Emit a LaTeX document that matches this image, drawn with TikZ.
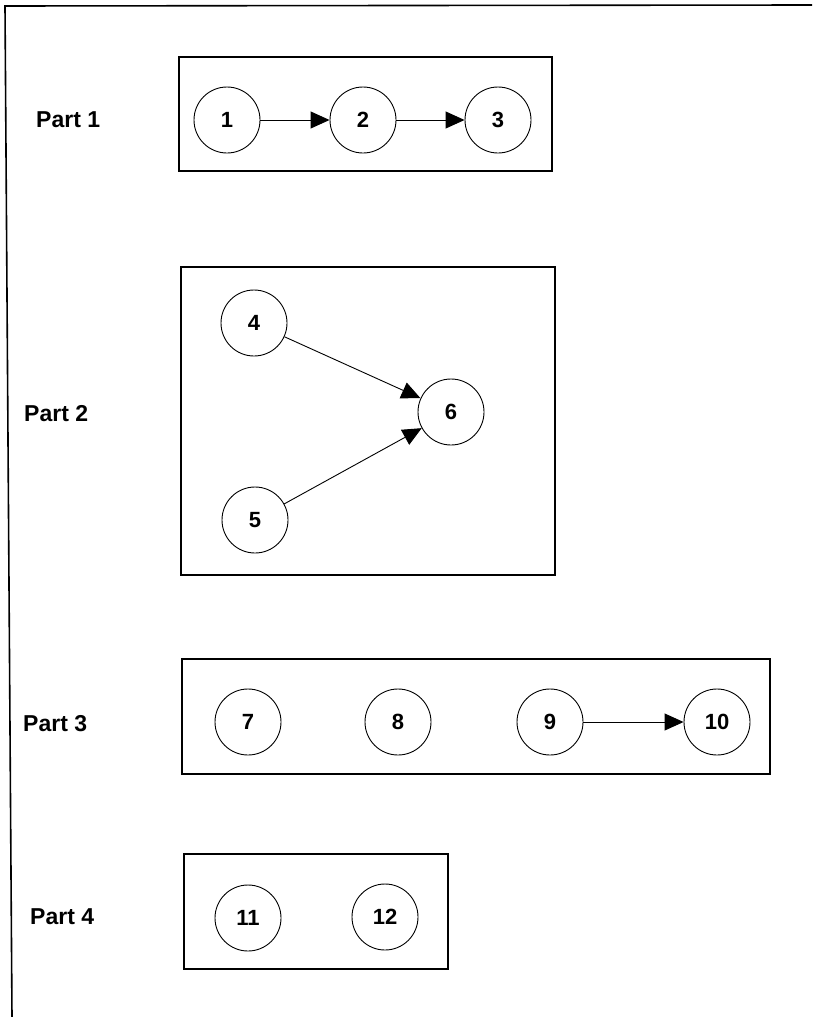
\documentclass[tikz,border=0pt]{standalone}
\usepackage{fontspec}
\setmainfont{Liberation Sans}
\usetikzlibrary{arrows.meta}
\begin{document}
\begin{tikzpicture}[x=1pt,y=-1pt,
  circ/.style={circle,draw,line width=0.9pt,minimum size=66pt,inner sep=0pt,
    font=\bfseries\fontsize{22}{22}\selectfont},
  grp/.style={draw,line width=1.4pt,inner sep=0pt},
  lbl/.style={anchor=west,inner sep=0pt,font=\bfseries\fontsize{23}{23}\selectfont},
  arr/.style={line width=0.9pt,-{Triangle[length=19pt,width=17pt]}}]
\useasboundingbox (0,0) rectangle (812,1017);
% page frame
\coordinate (fr1) at (812,5);
\coordinate (fr2) at (5,6);
\coordinate (fr3) at (12,1017);
\draw[line width=1.6pt] (fr1) -- (fr2) -- (fr3);

% group boxes
\node[grp,minimum width=373pt,minimum height=114pt] (box1) at (365.5,114) {};
\node[grp,minimum width=374pt,minimum height=308pt] (box2) at (368,421) {};
\node[grp,minimum width=588pt,minimum height=115pt] (box3) at (476,716.5) {};
\node[grp,minimum width=264pt,minimum height=115pt] (box4) at (316,911.5) {};

% labels
\node[lbl] (p1) at (36,120) {Part 1};
\node[lbl] (p2) at (24,414) {Part 2};
\node[lbl] (p3) at (23,724) {Part 3};
\node[lbl] (p4) at (30,917) {Part 4};

% Part 1
\node[circ] (n1) at (227,120) {1};
\node[circ] (n2) at (363,120) {2};
\node[circ] (n3) at (498,120) {3};
\draw[arr] (n1) -- (n2);
\draw[arr] (n2) -- (n3);

% Part 2
\node[circ] (n4) at (254,323) {4};
\node[circ] (n5) at (255,520) {5};
\node[circ] (n6) at (451,412) {6};
\draw[arr] (n4) -- (n6);
\draw[arr] (n5) -- (n6);

% Part 3
\node[circ] (n7) at (248,722) {7};
\node[circ] (n8) at (398,722) {8};
\node[circ] (n9) at (550,722) {9};
\node[circ] (n10) at (717,722) {10};
\draw[arr] (n9) -- (n10);

% Part 4
\node[circ] (n11) at (248,918) {11};
\node[circ] (n12) at (385,917) {12};
\end{tikzpicture}
\end{document}
